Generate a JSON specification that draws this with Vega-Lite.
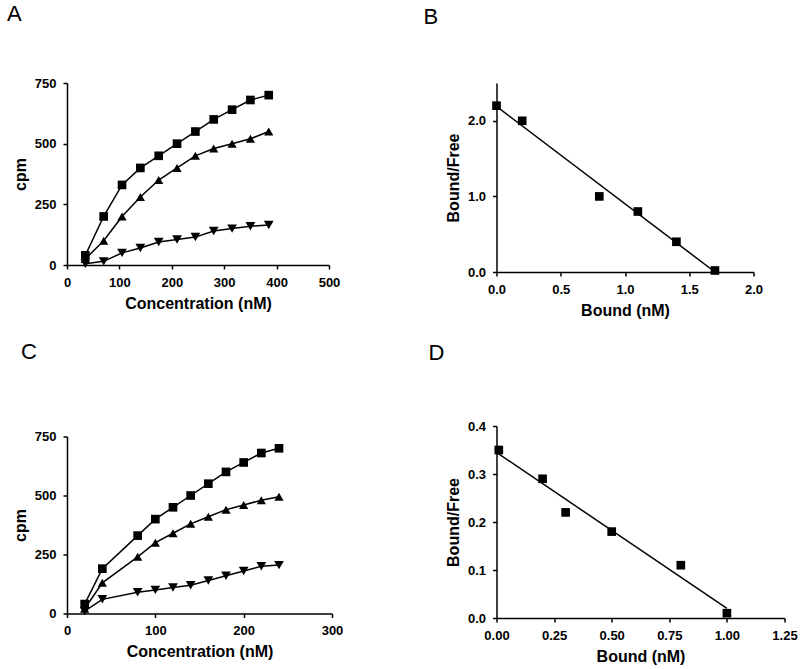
{
  "$schema": "https://vega.github.io/schema/vega-lite/v6.json",
  "background": "white",
  "padding": {"left": 7, "top": 2, "right": 5, "bottom": 5},
  "spacing": 80.5,
  "config": {
    "view": {"stroke": null},
    "font": "Liberation Sans",
    "axis": {
      "grid": false,
      "domainColor": "black",
      "domainWidth": 1.5,
      "tickColor": "black",
      "tickWidth": 1.5,
      "tickSize": 4,
      "labelFont": "Liberation Sans",
      "labelFontWeight": "bold",
      "labelFontSize": 13,
      "labelColor": "black",
      "labelFlush": false,
      "labelOverlap": false,
      "labelPadding": 7,
      "titleFont": "Liberation Sans",
      "titleFontWeight": "bold",
      "titleFontSize": 16,
      "titleColor": "black",
      "titlePadding": 6
    },
    "title": {"font": "Liberation Sans", "fontSize": 22, "fontWeight": "normal", "color": "black", "anchor": "start", "frame": "group"}
  },
  "datasets": {
    "a": [
      {"s": "total", "x": 35, "y": 40}, {"s": "total", "x": 70, "y": 200}, {"s": "total", "x": 105, "y": 330}, {"s": "total", "x": 140, "y": 400}, {"s": "total", "x": 175, "y": 450}, {"s": "total", "x": 210, "y": 500}, {"s": "total", "x": 245, "y": 550}, {"s": "total", "x": 280, "y": 600}, {"s": "total", "x": 315, "y": 640}, {"s": "total", "x": 350, "y": 680}, {"s": "total", "x": 385, "y": 700},
      {"s": "specific", "x": 35, "y": 25}, {"s": "specific", "x": 70, "y": 100}, {"s": "specific", "x": 105, "y": 200}, {"s": "specific", "x": 140, "y": 280}, {"s": "specific", "x": 175, "y": 350}, {"s": "specific", "x": 210, "y": 400}, {"s": "specific", "x": 245, "y": 450}, {"s": "specific", "x": 280, "y": 480}, {"s": "specific", "x": 315, "y": 500}, {"s": "specific", "x": 350, "y": 520}, {"s": "specific", "x": 385, "y": 550},
      {"s": "nonspecific", "x": 35, "y": 5}, {"s": "nonspecific", "x": 70, "y": 15}, {"s": "nonspecific", "x": 105, "y": 50}, {"s": "nonspecific", "x": 140, "y": 70}, {"s": "nonspecific", "x": 175, "y": 95}, {"s": "nonspecific", "x": 210, "y": 105}, {"s": "nonspecific", "x": 245, "y": 115}, {"s": "nonspecific", "x": 280, "y": 140}, {"s": "nonspecific", "x": 315, "y": 150}, {"s": "nonspecific", "x": 350, "y": 160}, {"s": "nonspecific", "x": 385, "y": 165}
    ],
    "b": [
      {"x": 0.0, "y": 2.2}, {"x": 0.2, "y": 2.0}, {"x": 0.8, "y": 1.0}, {"x": 1.1, "y": 0.8}, {"x": 1.4, "y": 0.4}, {"x": 1.7, "y": 0.02}
    ],
    "bfit": [{"x": 0.0, "y": 2.19}, {"x": 1.7, "y": 0.0}],
    "c": [
      {"s": "total", "x": 20, "y": 40}, {"s": "total", "x": 40, "y": 190}, {"s": "total", "x": 80, "y": 330}, {"s": "total", "x": 100, "y": 400}, {"s": "total", "x": 120, "y": 450}, {"s": "total", "x": 140, "y": 500}, {"s": "total", "x": 160, "y": 550}, {"s": "total", "x": 180, "y": 600}, {"s": "total", "x": 200, "y": 640}, {"s": "total", "x": 220, "y": 680}, {"s": "total", "x": 240, "y": 700},
      {"s": "specific", "x": 20, "y": 20}, {"s": "specific", "x": 40, "y": 130}, {"s": "specific", "x": 80, "y": 240}, {"s": "specific", "x": 100, "y": 300}, {"s": "specific", "x": 120, "y": 340}, {"s": "specific", "x": 140, "y": 380}, {"s": "specific", "x": 160, "y": 410}, {"s": "specific", "x": 180, "y": 440}, {"s": "specific", "x": 200, "y": 460}, {"s": "specific", "x": 220, "y": 480}, {"s": "specific", "x": 240, "y": 495},
      {"s": "nonspecific", "x": 20, "y": 10}, {"s": "nonspecific", "x": 40, "y": 60}, {"s": "nonspecific", "x": 80, "y": 90}, {"s": "nonspecific", "x": 100, "y": 100}, {"s": "nonspecific", "x": 120, "y": 110}, {"s": "nonspecific", "x": 140, "y": 120}, {"s": "nonspecific", "x": 160, "y": 140}, {"s": "nonspecific", "x": 180, "y": 160}, {"s": "nonspecific", "x": 200, "y": 180}, {"s": "nonspecific", "x": 220, "y": 200}, {"s": "nonspecific", "x": 240, "y": 205}
    ],
    "d": [
      {"x": 0.01, "y": 0.35}, {"x": 0.2, "y": 0.29}, {"x": 0.3, "y": 0.22}, {"x": 0.5, "y": 0.18}, {"x": 0.8, "y": 0.11}, {"x": 1.0, "y": 0.01}
    ],
    "dfit": [{"x": 0.0, "y": 0.345}, {"x": 1.0, "y": 0.02}]
  },
  "hconcat": [
    {
      "bounds": "flush",
      "spacing": 171.5,
      "vconcat": [
        {
          "title": {"text": "A", "dx": -60, "offset": 51.5},
          "width": 262, "height": 182,
          "data": {"name": "a"},
          "layer": [
            {
              "mark": {"type": "line", "color": "black", "strokeWidth": 1.5},
              "encoding": {
                "x": {"field": "x", "type": "quantitative", "scale": {"domain": [0, 500], "nice": false}, "axis": {"values": [0, 100, 200, 300, 400, 500], "title": "Concentration (nM)"}},
                "y": {"field": "y", "type": "quantitative", "scale": {"domain": [0, 750], "nice": false}, "axis": {"values": [0, 250, 500, 750], "title": "cpm"}},
                "detail": {"field": "s", "type": "nominal"}
              }
            },
            {
              "mark": {"type": "point", "filled": true, "color": "black", "opacity": 1},
              "encoding": {
                "x": {"field": "x", "type": "quantitative"},
                "y": {"field": "y", "type": "quantitative"},
                "shape": {"field": "s", "type": "nominal", "scale": {"domain": ["total", "specific", "nonspecific"], "range": ["square", "triangle-up", "triangle-down"]}, "legend": null},
                "size": {"field": "s", "type": "nominal", "scale": {"domain": ["total", "specific", "nonspecific"], "range": [75, 95, 95]}, "legend": null}
              }
            }
          ]
        },
        {
          "title": {"text": "C", "dx": -46, "offset": 67},
          "width": 265, "height": 177,
          "data": {"name": "c"},
          "layer": [
            {
              "mark": {"type": "line", "color": "black", "strokeWidth": 1.5},
              "encoding": {
                "x": {"field": "x", "type": "quantitative", "scale": {"domain": [0, 300], "nice": false}, "axis": {"values": [0, 100, 200, 300], "title": "Concentration (nM)"}},
                "y": {"field": "y", "type": "quantitative", "scale": {"domain": [0, 750], "nice": false}, "axis": {"values": [0, 250, 500, 750], "title": "cpm"}},
                "detail": {"field": "s", "type": "nominal"}
              }
            },
            {
              "mark": {"type": "point", "filled": true, "color": "black", "opacity": 1},
              "encoding": {
                "x": {"field": "x", "type": "quantitative"},
                "y": {"field": "y", "type": "quantitative"},
                "shape": {"field": "s", "type": "nominal", "scale": {"domain": ["total", "specific", "nonspecific"], "range": ["square", "triangle-up", "triangle-down"]}, "legend": null},
                "size": {"field": "s", "type": "nominal", "scale": {"domain": ["total", "specific", "nonspecific"], "range": [75, 95, 95]}, "legend": null}
              }
            }
          ]
        }
      ]
    },
    {
      "bounds": "flush",
      "spacing": 154,
      "vconcat": [
        {
          "title": {"text": "B", "dx": -73, "offset": 54.4},
          "width": 257, "height": 189,
          "layer": [
            {
              "data": {"name": "bfit"},
              "mark": {"type": "line", "color": "black", "strokeWidth": 1.5},
              "encoding": {
                "x": {"field": "x", "type": "quantitative", "scale": {"domain": [0, 2], "nice": false}, "axis": {"values": [0, 0.5, 1, 1.5, 2], "format": ".1f", "title": "Bound (nM)"}},
                "y": {"field": "y", "type": "quantitative", "scale": {"domain": [0, 2.5], "nice": false}, "axis": {"values": [0, 0.5, 1, 1.5, 2, 2.5], "format": ".1f", "title": "Bound/Free"}}
              }
            },
            {
              "data": {"name": "b"},
              "mark": {"type": "point", "shape": "square", "filled": true, "color": "black", "opacity": 1, "size": 75},
              "encoding": {
                "x": {"field": "x", "type": "quantitative"},
                "y": {"field": "y", "type": "quantitative"}
              }
            }
          ]
        },
        {
          "title": {"text": "D", "dx": -68, "offset": 54.7},
          "width": 288, "height": 192,
          "layer": [
            {
              "data": {"name": "dfit"},
              "mark": {"type": "line", "color": "black", "strokeWidth": 1.5},
              "encoding": {
                "x": {"field": "x", "type": "quantitative", "scale": {"domain": [0, 1.25], "nice": false}, "axis": {"values": [0, 0.25, 0.5, 0.75, 1, 1.25], "format": ".2f", "title": "Bound (nM)"}},
                "y": {"field": "y", "type": "quantitative", "scale": {"domain": [0, 0.4], "nice": false}, "axis": {"values": [0, 0.1, 0.2, 0.3, 0.4], "format": ".1f", "title": "Bound/Free"}}
              }
            },
            {
              "data": {"name": "d"},
              "mark": {"type": "point", "shape": "square", "filled": true, "color": "black", "opacity": 1, "size": 75},
              "encoding": {
                "x": {"field": "x", "type": "quantitative"},
                "y": {"field": "y", "type": "quantitative"}
              }
            }
          ]
        }
      ]
    }
  ]
}
